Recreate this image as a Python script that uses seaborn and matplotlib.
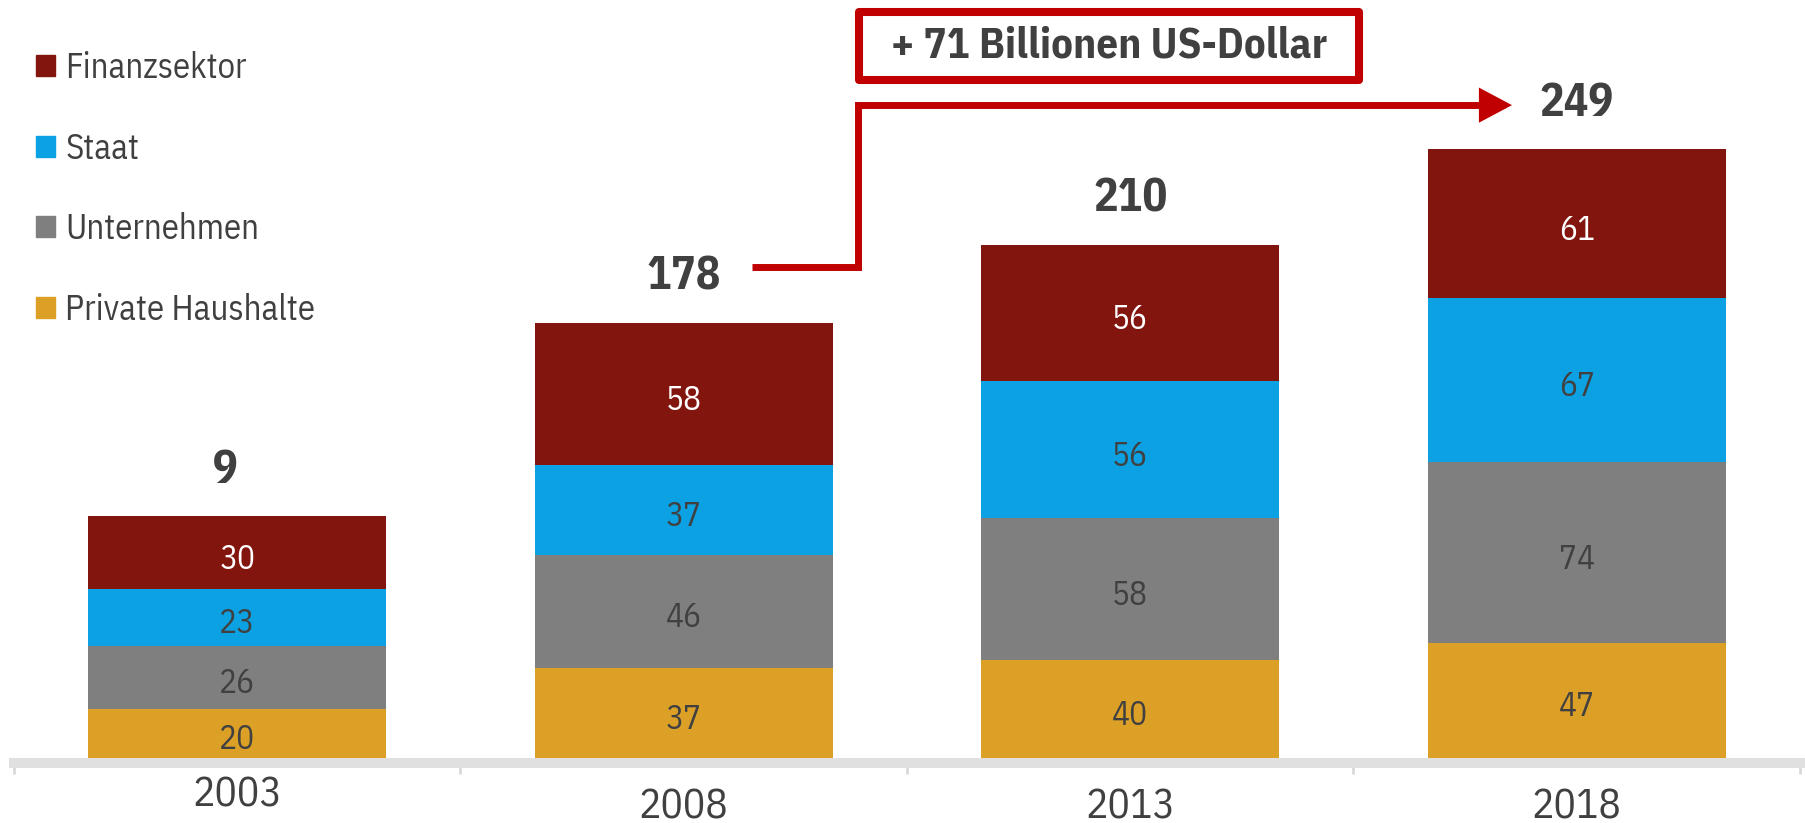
import numpy as np
import pandas as pd
import matplotlib.pyplot as plt
import seaborn as sns
from matplotlib.patches import Patch, Rectangle, FancyArrowPatch
from matplotlib.path import Path
import matplotlib.patheffects as pe

# Daten
years = ["2003", "2008", "2013", "2018"]
sectors = ["Private Haushalte", "Unternehmen", "Staat", "Finanzsektor"]  # von unten nach oben
private = [20, 37, 40, 47]
unternehmen = [26, 46, 58, 74]
staat = [23, 37, 56, 67]
finanz = [30, 58, 56, 61]
total_labels = ["9", "178", "210", "249"]
box_text = "+ 71 Billionen US-Dollar"

colors = {"Finanzsektor": "#82160e", "Staat": "#0ba1e2",
          "Unternehmen": "#7f7f7f", "Private Haushalte": "#dda027"}
dark = "#404040"

df = pd.DataFrame({"Jahr": years, "Private Haushalte": private, "Unternehmen": unternehmen,
                   "Staat": staat, "Finanzsektor": finanz})
cum = df[sectors].cumsum(axis=1)
for s in sectors:
    df["cum_" + s] = cum[s]

sns.set_style("white")
plt.rcParams["font.family"] = ["IBM Plex Sans Condensed", "DejaVu Sans"]

fig = plt.figure(figsize=(18.06, 8.23), dpi=100)
ax = fig.add_axes([14 / 1806, 65 / 823, 1786 / 1806, 758 / 823])

# gestapelte Balken: kumulierte Summen von oben nach unten übereinander zeichnen
for s in sectors[::-1]:
    sns.barplot(data=df, x="Jahr", y="cum_" + s, color=colors[s], saturation=1,
                width=0.667, linewidth=0, errorbar=None, ax=ax)

# Segmentwerte
for i in range(len(years)):
    for s in sectors:
        y = df.loc[i, "cum_" + s] - df.loc[i, s] / 2
        ax.annotate(str(df.loc[i, s]), xy=(i, y), xytext=(0, -5), textcoords="offset points",
                    ha="center", va="center", fontsize=24,
                    color="white" if s == "Finanzsektor" else dark)

# Summen über den Balken
for i, lab in enumerate(total_labels):
    top = df.loc[i, "cum_Finanzsektor"]
    ax.annotate(lab, xy=(i, top), xytext=(0, 33), textcoords="offset points",
                ha="right" if i == 0 else "center", va="center",
                fontsize=33, fontweight="bold", color=dark)

# Jahreszahlen
label_y = [-0.049, -0.064, -0.064, -0.064]
for i, yr in enumerate(years):
    ax.text(i, label_y[i], yr, transform=ax.get_xaxis_transform(), ha="center", va="center",
            fontsize=30, color=dark)

ax.set_xlim(-0.5, len(years) - 0.5)
ax.set_ylim(0, 310)
ax.set_xlabel("")
ax.set_ylabel("")
ax.set_yticks([])
ax.set_xticks(range(len(years)))
ax.set_xticklabels([])
ax.set_xticks(np.arange(-0.5, len(years)), minor=True)
ax.tick_params(axis="x", which="both", bottom=True)
ax.tick_params(axis="x", which="major", length=0)
ax.tick_params(axis="x", which="minor", length=8, width=2, color="#d9d9d9")
for side in ["left", "right", "top"]:
    ax.spines[side].set_visible(False)
ax.spines["bottom"].set_color("#e0e0e0")
ax.spines["bottom"].set_linewidth(7.2)
ax.spines["bottom"].set_position(("outward", 3.6))

# Pfeil von 2008 nach 2018
red = "#c00000"
verts = [(1.153, 201), (1.39, 201), (1.39, 267), (2.855, 267)]
arrow = FancyArrowPatch(path=Path(verts), arrowstyle="-|>,head_length=16,head_width=8.5",
                        mutation_scale=1, color=red, lw=5, joinstyle="miter", capstyle="butt")
ax.add_patch(arrow)

# Kasten mit Text
box = Rectangle((1.3925, 277.1), 1.12, 27.9, facecolor="white", edgecolor=red, lw=5.8,
                joinstyle="round", clip_on=False,
                path_effects=[pe.SimplePatchShadow(offset=(2, -2), alpha=0.2), pe.Normal()])
ax.add_patch(box)
ax.text(1.952, 291, box_text, ha="center", va="center", fontsize=31,
        fontweight="bold", color=dark)

# Legende
handles = [Patch(color=colors[s], label=s) for s in sectors[::-1]]
ax.legend(handles=handles, loc="upper left", bbox_to_anchor=(36 / 1806, 1 - 51 / 823),
          bbox_transform=fig.transFigure, frameon=False, fontsize=25,
          handlelength=0.54, handleheight=0.54, handletextpad=0.3,
          labelspacing=1.34, borderpad=0, borderaxespad=0, labelcolor=dark)

plt.savefig("out.png", dpi=100)
